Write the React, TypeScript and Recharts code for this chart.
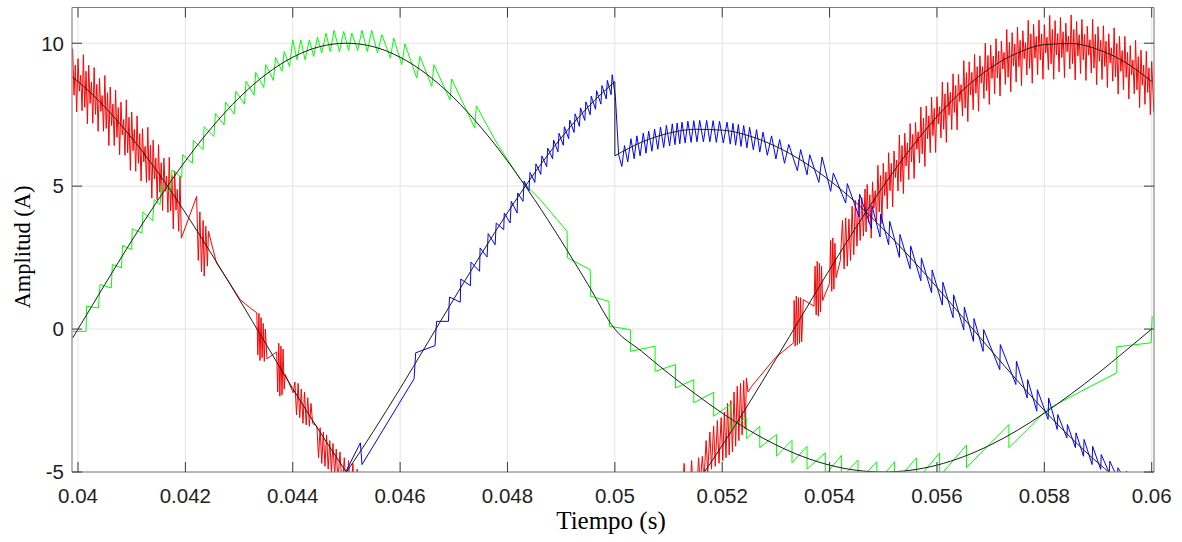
import React from "react";
import { LineChart, Line, XAxis, YAxis, CartesianGrid } from "recharts";

// ---------- axes ----------
const X_DOMAIN: [number, number] = [0.039888, 0.060043];
const Y_DOMAIN: [number, number] = [-5, 11.25];
const xTicks = [0.04, 0.042, 0.044, 0.046, 0.048, 0.05, 0.052, 0.054, 0.056, 0.058, 0.06];
const xTickLabels = ["0.04", "0.042", "0.044", "0.046", "0.048", "0.05", "0.052", "0.054", "0.056", "0.058", "0.06"];
const yTicks = [-5, 0, 5, 10];
const yTickLabels = ["-5", "0", "5", "10"];
const xTitle = "Tiempo (s)";
const yTitle = "Amplitud (A)";

// ---------- reference (black) curves ----------
const refTime = [
  0.0399, 0.04, 0.0405, 0.041, 0.0415, 0.042, 0.0425, 0.043, 0.0435, 0.044, 0.0445,
  0.045, 0.0455, 0.046, 0.0465, 0.047, 0.0475, 0.048, 0.0485, 0.049, 0.0495, 0.05,
  0.0505, 0.051, 0.0515, 0.052, 0.0525, 0.053, 0.0535, 0.054, 0.0545, 0.055, 0.0555,
  0.056, 0.0565, 0.057, 0.0575, 0.058, 0.0585, 0.059, 0.0595, 0.06,
];
const redRef = [
  8.81, 8.66, 7.77, 6.69, 5.45, 4.07, 2.59, 1.05, -0.52, -2.08, -3.58, -5.0, -6.29, -7.43,
  -8.39, -9.14, -9.66, -9.95, -9.99, -9.78, -9.34, -8.66, -7.77, -6.69, -5.45, -4.07, -2.59,
  -1.05, 0.52, 2.08, 3.58, 5.0, 6.29, 7.43, 8.39, 9.14, 9.66, 9.95, 9.99, 9.78, 9.34, 8.66,
];
const greenRef = [
  -0.31, 0, 1.56, 3.09, 4.54, 5.88, 7.07, 8.09, 8.91, 9.51, 9.88, 10, 9.88, 9.51, 8.91, 8.09,
  7.07, 5.88, 4.54, 3.09, 1.56, 0, -0.78, -1.55, -2.27, -2.94, -3.54, -4.05, -4.46, -4.76,
  -4.94, -5, -4.94, -4.76, -4.46, -4.05, -3.54, -2.94, -2.27, -1.55, -0.78, 0,
];
const blueRefBefore = [
  -8.5, -8.66, -9.34, -9.78, -9.99, -9.95, -9.66, -9.14, -8.39, -7.43, -6.29, -5.0, -3.58,
  -2.08, -0.52, 1.05, 2.59, 4.07, 5.45, 6.69, 7.77, 8.66,
];
const blueRefAfter = [
  6.06, 6.54, 6.85, 6.99, 6.96, 6.76, 6.39, 5.87, 5.2, 4.41, 3.5, 2.51, 1.46, 0.37, -0.73,
  -1.81, -2.85, -3.81, -4.68, -5.44, -6.06,
];
const blueRefJumpTime = [0.05, 0.05];
const blueRefJump = [8.66, 6.06];

// ---------- measured currents (time s, amplitude A) ----------
const greenCurrent: [number, number][] = [
  [0.0399, -0.08], [0.04015, -0.08], [0.04016, 0.8], [0.04038, 0.74], [0.04041, 1.56],
  [0.04062, 1.44], [0.04064, 2.26], [0.04081, 2.14], [0.04083, 2.93], [0.041, 2.78],
  [0.04101, 3.51], [0.04119, 3.36], [0.04121, 4.1], [0.04139, 3.79], [0.04142, 4.53],
  [0.04153, 4.35], [0.04155, 5.02], [0.04173, 4.77], [0.04175, 5.57], [0.04193, 5.3],
  [0.04195, 6.1], [0.04213, 5.8], [0.04215, 6.6], [0.04233, 6.28], [0.04235, 7.08],
  [0.04253, 6.74], [0.04256, 7.54], [0.04272, 7.14], [0.04275, 7.94], [0.04291, 7.52],
  [0.04294, 8.32], [0.0431, 7.87], [0.04313, 8.67], [0.04328, 8.18], [0.04331, 8.98],
  [0.04346, 8.45], [0.0435, 9.25], [0.04364, 8.7], [0.04368, 9.5], [0.0438, 9.02],
  [0.04384, 9.71], [0.04394, 9.19], [0.044, 10.12], [0.04408, 9.42], [0.04415, 10.12],
  [0.04423, 9.42], [0.04431, 10.12], [0.04439, 9.54], [0.04446, 10.21], [0.04454, 9.66],
  [0.04462, 10.35], [0.0447, 9.71], [0.04477, 10.45], [0.04487, 9.71], [0.04495, 10.41],
  [0.04504, 9.75], [0.0451, 10.35], [0.04521, 9.75], [0.04529, 10.45], [0.04539, 9.71],
  [0.04547, 10.45], [0.04558, 9.66], [0.04566, 10.3], [0.04582, 9.48], [0.04588, 10.18],
  [0.04603, 9.25], [0.04609, 9.98], [0.04631, 8.78], [0.04637, 9.54], [0.04659, 8.49],
  [0.04663, 9.25], [0.04693, 8.02], [0.04696, 8.75], [0.04739, 7.03], [0.04742, 7.81],
  [0.0478, 6.51], [0.04824, 5.23], [0.04861, 4.53], [0.04911, 3.42], [0.04912, 2.49],
  [0.04954, 2.08], [0.04955, 1.15], [0.04989, 0.97], [0.0499, 0.1], [0.05029, -0.02],
  [0.05029, -0.78], [0.05075, -0.6], [0.05075, -1.48], [0.05113, -1.24], [0.05113, -2.06],
  [0.05147, -1.77], [0.05147, -2.58], [0.05184, -2.21], [0.05184, -3.05], [0.05215, -2.64],
  [0.05215, -3.51], [0.05245, -3.1], [0.05245, -3.84], [0.0527, -3.4], [0.0527, -4.15],
  [0.05301, -3.69], [0.05301, -4.45], [0.0533, -3.89], [0.0533, -4.68], [0.05358, -4.1],
  [0.05358, -4.9], [0.05392, -4.33], [0.05392, -5.1], [0.05422, -4.42], [0.05422, -5.2],
  [0.05453, -4.58], [0.05453, -5.35], [0.05488, -4.64], [0.05488, -5.4], [0.05521, -4.64],
  [0.05521, -5.4], [0.05562, -4.5], [0.05562, -5.3], [0.05605, -4.33], [0.05605, -5.15],
  [0.05655, -4.06], [0.05655, -4.85], [0.05734, -3.34], [0.05734, -4.15], [0.05768, -3.52],
  [0.05805, -2.81], [0.05868, -2.18], [0.05935, -1.53], [0.05935, -0.62], [0.05999, -0.48],
  [0.06001, 0.45],
];

const blueCurrent: [number, number][] = [
  [0.0449, -5.6], [0.04501, -4.91], [0.04526, -3.98], [0.04529, -4.74], [0.04626, -1.74],
  [0.04629, -0.83], [0.04665, -0.58], [0.04668, 0.27], [0.0469, 0.27], [0.04692, 1.12],
  [0.04712, 0.94], [0.04713, 1.75], [0.04731, 1.52], [0.04732, 2.34], [0.04748, 2.02],
  [0.04749, 2.84], [0.04762, 2.52], [0.04764, 3.34], [0.04777, 2.95], [0.04779, 3.71],
  [0.04793, 3.48], [0.04794, 4.06], [0.04805, 3.71], [0.04807, 4.47], [0.04818, 4.06],
  [0.04819, 4.76], [0.04829, 4.47], [0.04831, 5.18], [0.0484, 4.83], [0.04842, 5.48],
  [0.04851, 5.13], [0.04853, 5.78], [0.04862, 5.41], [0.04864, 6.06], [0.04873, 5.68],
  [0.04875, 6.33], [0.04884, 5.96], [0.04886, 6.61], [0.04894, 6.2], [0.04896, 6.85],
  [0.04904, 6.43], [0.04906, 7.08], [0.04914, 6.66], [0.04916, 7.31], [0.04924, 6.88],
  [0.04926, 7.53], [0.04934, 7.09], [0.04936, 7.74], [0.04944, 7.3], [0.04946, 7.95],
  [0.04954, 7.5], [0.04956, 8.15], [0.04964, 7.69], [0.04966, 8.34], [0.04974, 7.87],
  [0.04976, 8.52], [0.04984, 8.05], [0.04986, 8.7], [0.04993, 8.2], [0.04995, 8.9],
  [0.05001, 8.14], [0.05007, 6.1], [0.05013, 5.69], [0.05018, 6.42], [0.05024, 5.85],
  [0.0503, 6.66], [0.05036, 5.96], [0.05041, 6.76], [0.05047, 6.06], [0.05053, 6.86],
  [0.05058, 6.15], [0.05063, 6.93], [0.05069, 6.22], [0.05074, 7.0], [0.0508, 6.29],
  [0.05085, 7.07], [0.05091, 6.35], [0.05096, 7.13], [0.05102, 6.41], [0.05107, 7.18],
  [0.05112, 6.45], [0.05116, 7.21], [0.05121, 6.48], [0.05125, 7.24], [0.05131, 6.51],
  [0.05136, 7.27], [0.05142, 6.53], [0.05147, 7.29], [0.05153, 6.55], [0.05158, 7.3],
  [0.05165, 6.55], [0.05171, 7.3], [0.05177, 6.55], [0.05183, 7.29], [0.05189, 6.53],
  [0.05195, 7.27], [0.05202, 6.51], [0.05209, 7.24], [0.05215, 6.47], [0.0522, 7.2],
  [0.05225, 6.43], [0.0523, 7.16], [0.05235, 6.39], [0.0524, 7.12], [0.05246, 6.34],
  [0.05251, 7.06], [0.05258, 6.27], [0.05264, 6.98], [0.0527, 6.19], [0.05276, 6.89],
  [0.05284, 6.08], [0.05292, 6.76], [0.053, 5.95], [0.05307, 6.63], [0.05316, 5.8],
  [0.05324, 6.46], [0.0534, 5.54], [0.05346, 6.28], [0.05358, 5.4], [0.05363, 6.1],
  [0.0538, 5.13], [0.05386, 6.02], [0.05402, 4.82], [0.05407, 5.46], [0.0543, 4.41],
  [0.05433, 5.09], [0.05455, 3.92], [0.05456, 4.72], [0.05478, 3.51], [0.05479, 4.31],
  [0.05494, 3.22], [0.05495, 4.02], [0.0551, 2.95], [0.05512, 3.77], [0.0553, 2.51],
  [0.05531, 3.31], [0.0555, 2.11], [0.05551, 2.91], [0.0557, 1.69], [0.05571, 2.49],
  [0.0559, 1.27], [0.05591, 2.07], [0.0561, 0.84], [0.05611, 1.64], [0.0563, 0.4],
  [0.05631, 1.2], [0.0565, -0.03], [0.05651, 0.77], [0.05668, -0.43], [0.05669, 0.37],
  [0.05686, -0.78], [0.05687, -0.02], [0.05717, -1.42], [0.05718, -0.54], [0.05747, -1.94],
  [0.05748, -1.12], [0.05768, -2.41], [0.05769, -1.77], [0.05786, -2.87], [0.05787, -2.12],
  [0.05807, -3.16], [0.05808, -2.41], [0.05824, -3.51], [0.05825, -2.99], [0.05842, -3.81],
  [0.05843, -3.34], [0.05858, -4.15], [0.05859, -3.63], [0.05873, -4.45], [0.05874, -3.86],
  [0.05889, -4.74], [0.0589, -4.1], [0.05905, -4.91], [0.05906, -4.39], [0.05921, -5.03],
  [0.05922, -4.62], [0.05936, -5.2], [0.05937, -4.85], [0.05952, -5.3], [0.05953, -4.97],
  [0.0597, -5.6],
];

const redCurrent: [number, number][] = [
  [0.0399, 9.81], [0.039925, 8.18], [0.03995, 9.24], [0.039975, 7.6], [0.04, 9.46], [0.040025, 8.32],
  [0.04005, 8.88], [0.040075, 7.64], [0.0401, 9.6], [0.040125, 7.76], [0.04015, 9.02], [0.040175, 7.18],
  [0.0402, 9.23], [0.040225, 7.89], [0.04025, 8.64], [0.040275, 7.2], [0.0403, 9.15], [0.040325, 7.51],
  [0.04035, 8.56], [0.040375, 6.92], [0.0404, 8.77], [0.040425, 7.62], [0.04045, 8.17], [0.040475, 6.92],
  [0.0405, 8.87], [0.040525, 7.02], [0.04055, 8.27], [0.040575, 6.42], [0.0406, 8.47], [0.040625, 7.12],
  [0.04065, 7.87], [0.040675, 6.42], [0.0407, 8.36], [0.040725, 6.71], [0.04075, 7.75], [0.040775, 6.1],
  [0.0408, 7.94], [0.040825, 6.79], [0.04085, 7.33], [0.040875, 6.08], [0.0409, 8.02], [0.040925, 6.17],
  [0.04095, 7.41], [0.040975, 5.55], [0.041, 7.59], [0.041025, 6.24], [0.04105, 6.98], [0.041075, 5.52],
  [0.0411, 7.46], [0.041125, 5.8], [0.04115, 6.84], [0.041175, 5.18], [0.0412, 7.01], [0.041225, 5.85],
  [0.04125, 6.39], [0.041275, 5.13], [0.0413, 7.06], [0.041325, 5.2], [0.04135, 6.44], [0.041375, 4.58],
  [0.0414, 6.61], [0.041425, 5.25], [0.04145, 5.98], [0.041475, 4.52], [0.0415, 6.45], [0.041525, 4.79],
  [0.04155, 5.82], [0.041575, 4.15], [0.0416, 5.98], [0.041625, 4.82], [0.04165, 5.35], [0.041675, 4.08],
  [0.0417, 6.01], [0.041725, 4.14], [0.04175, 5.37], [0.041775, 3.5], [0.0418, 5.53], [0.041825, 4.16],
  [0.04185, 4.89], [0.041875, 3.42], [0.0419, 5.35], [0.041925, 3.18],
  [0.04221, 4.64], [0.04224, 2.4], [0.04227, 4.1], [0.0423, 2.0], [0.04233, 3.8], [0.04235, 1.85],
  [0.04238, 3.6], [0.04241, 2.2], [0.04243, 3.42], [0.04258, 2.31], [0.0428, 1.68], [0.04302, 1.03],
  [0.0432, 0.75], [0.04333, 0.57], [0.04335, -0.9], [0.04337, 0.55], [0.04339, -1.1], [0.04341, 0.4],
  [0.04343, -1.0], [0.04345, 0.2], [0.04347, -1.13], [0.04349, 0.0], [0.04352, -1.04], [0.0437, -0.8],
  [0.04372, -2.2], [0.04374, -0.5], [0.04376, -2.35], [0.04378, -0.6], [0.0438, -2.3], [0.04382, -0.7],
  [0.04384, -2.1], [0.04386, -1.59], [0.04401, -2.23], [0.04404, -1.85], [0.04407, -3.0], [0.0441, -1.9],
  [0.04413, -3.1], [0.04416, -2.1], [0.04419, -3.3], [0.04422, -2.2], [0.04425, -3.35], [0.04428, -2.4],
  [0.04431, -3.4], [0.04434, -2.6], [0.04437, -3.3], [0.04445, -3.4], [0.04448, -4.5], [0.04451, -3.45],
  [0.04454, -4.7], [0.04457, -3.6], [0.0446, -4.8], [0.04463, -3.7], [0.04466, -4.9], [0.04469, -3.9],
  [0.04472, -5.0], [0.04475, -4.0], [0.04478, -5.1], [0.04481, -4.2], [0.04484, -5.3], [0.04488, -4.3],
  [0.04492, -5.6], [0.04496, -4.5], [0.045, -5.8], [0.04504, -4.6], [0.04508, -6.0], [0.04512, -4.7],
  [0.04516, -6.1], [0.0452, -4.9], [0.04524, -6.2], [0.0453, -6.0], [0.046, -7.8], [0.047, -9.4],
  [0.0483, -10.0], [0.0495, -9.5], [0.0505, -7.9], [0.0512, -6.0],
  [0.05126, -5.8], [0.05129, -4.7], [0.05132, -5.9], [0.0514, -5.6], [0.05143, -4.6], [0.05146, -5.7],
  [0.05153, -5.5], [0.05156, -4.5], [0.05159, -5.4], [0.05163, -4.45], [0.05166, -5.3], [0.0517, -3.9],
  [0.05173, -5.0], [0.05177, -3.6], [0.0518, -4.9], [0.05184, -3.4], [0.05187, -4.8], [0.05191, -3.2],
  [0.05194, -4.7], [0.05198, -3.1], [0.05201, -4.6], [0.05204, -2.9], [0.05207, -4.5], [0.0521, -2.6],
  [0.05213, -4.4], [0.05216, -2.5], [0.05219, -4.3], [0.05222, -2.2], [0.05225, -4.1], [0.05228, -2.0],
  [0.05231, -3.9], [0.05234, -1.9], [0.05237, -3.7], [0.0524, -1.8], [0.05243, -3.5], [0.05245, -1.71],
  [0.05248, -2.2], [0.05255, -2.0], [0.05299, -1.0], [0.05333, -0.48], [0.05334, 1.0], [0.05336, -0.6],
  [0.05338, 1.15], [0.0534, -0.55], [0.05342, 1.1], [0.05344, -0.5], [0.05346, 1.1], [0.05348, -0.45],
  [0.05351, 1.03], [0.05371, 0.8], [0.05373, 2.2], [0.05375, 0.5], [0.05377, 2.37], [0.05379, 0.45],
  [0.05381, 2.3], [0.05383, 0.6], [0.05385, 2.2], [0.05387, 1.0], [0.054, 1.6], [0.05402, 3.1],
  [0.05404, 1.32], [0.05406, 3.19], [0.05408, 1.4], [0.0541, 3.0], [0.05412, 1.8], [0.0542, 2.4],
  [0.05424, 3.8], [0.05427, 2.1], [0.0543, 3.89], [0.05433, 2.2], [0.05436, 3.85], [0.05439, 2.4],
  [0.05442, 4.3], [0.05445, 2.6], [0.05448, 4.5], [0.05451, 2.9], [0.05454, 4.53], [0.05457, 3.1],
  [0.0546, 4.6], [0.05463, 3.25], [0.05466, 4.9], [0.05468, 3.4],
  [0.0547, 5.06], [0.054725, 3.73], [0.05475, 4.7], [0.054775, 3.18], [0.0548, 5.15], [0.054825, 4.22],
  [0.05485, 4.84], [0.054875, 3.76], [0.0549, 5.73], [0.054925, 4.1], [0.05495, 5.37], [0.054975, 3.69],
  [0.055, 5.8], [0.055025, 4.67], [0.05505, 5.49], [0.055075, 4.21], [0.0551, 6.17], [0.055125, 4.84],
  [0.05515, 5.8], [0.055175, 4.27], [0.0552, 6.23], [0.055225, 5.3], [0.05525, 5.91], [0.055275, 4.83],
  [0.0553, 6.79], [0.055325, 5.16], [0.05535, 6.42], [0.055375, 4.74], [0.0554, 6.85], [0.055425, 5.71],
  [0.05545, 6.52], [0.055475, 5.23], [0.0555, 7.19], [0.055525, 5.85], [0.05555, 6.81], [0.055575, 5.27],
  [0.0556, 7.23], [0.055625, 6.29], [0.05565, 6.9], [0.055675, 5.81], [0.0557, 7.77], [0.055725, 6.13],
  [0.05575, 7.38], [0.055775, 5.69], [0.0558, 7.8], [0.055825, 6.66], [0.05585, 7.46], [0.055875, 6.17],
  [0.0559, 8.12], [0.055925, 6.77], [0.05595, 7.72], [0.055975, 6.18], [0.056, 8.13], [0.056025, 7.18],
  [0.05605, 7.78], [0.056075, 6.69], [0.0561, 8.64], [0.056125, 6.99], [0.05615, 8.23], [0.056175, 6.53],
  [0.0562, 8.63], [0.056225, 7.48], [0.05625, 8.28], [0.056275, 6.98], [0.0563, 8.93], [0.056325, 7.58],
  [0.05635, 8.52], [0.056375, 6.97], [0.0564, 8.91], [0.056425, 7.96], [0.05645, 8.55], [0.056475, 7.45],
  [0.0565, 9.39], [0.056525, 7.73], [0.05655, 8.97], [0.056575, 7.26], [0.0566, 9.35], [0.056625, 8.19],
  [0.05665, 8.98], [0.056675, 7.67], [0.0567, 9.61], [0.056725, 8.25], [0.05675, 9.18], [0.056775, 7.62],
  [0.0568, 9.56], [0.056825, 8.6], [0.05685, 9.18], [0.056875, 8.07], [0.0569, 10.0], [0.056925, 8.34],
  [0.05695, 9.57], [0.056975, 7.86], [0.057, 9.94], [0.057025, 8.77], [0.05705, 9.55], [0.057075, 8.23],
  [0.0571, 10.16], [0.057125, 8.79], [0.05715, 9.72], [0.057175, 8.15], [0.0572, 10.07], [0.057225, 9.1],
  [0.05725, 9.68], [0.057275, 8.56], [0.0573, 10.48], [0.057325, 8.81], [0.05735, 10.03], [0.057375, 8.3],
  [0.0574, 10.37], [0.057425, 9.2], [0.05745, 9.97], [0.057475, 8.64], [0.0575, 10.56], [0.057525, 9.18],
  [0.05755, 10.1], [0.057575, 8.52], [0.0576, 10.44], [0.057625, 9.46], [0.05765, 10.02], [0.057675, 8.89],
  [0.0577, 10.8], [0.057725, 9.12], [0.05775, 10.33], [0.057775, 8.6], [0.0578, 10.66], [0.057825, 9.48],
  [0.05785, 10.24], [0.057875, 8.9], [0.0579, 10.81], [0.057925, 9.42], [0.05795, 10.33], [0.057975, 8.74],
  [0.058, 10.65], [0.058025, 9.66], [0.05805, 10.21], [0.058075, 9.07], [0.0581, 10.97], [0.058125, 9.28],
  [0.05815, 10.48], [0.058175, 8.74], [0.0582, 10.79], [0.058225, 9.59], [0.05825, 10.34], [0.058275, 9.0],
  [0.0583, 10.9], [0.058325, 9.5], [0.05835, 10.4], [0.058375, 8.8], [0.0584, 10.7], [0.058425, 9.7],
  [0.05845, 10.25], [0.058475, 9.1], [0.0585, 10.99], [0.058525, 9.29], [0.05855, 10.48], [0.058575, 8.72],
  [0.0586, 10.76], [0.058625, 9.56], [0.05865, 10.3], [0.058675, 8.94], [0.0587, 10.83], [0.058725, 9.42],
  [0.05875, 10.31], [0.058775, 8.7], [0.0588, 10.59], [0.058825, 9.58], [0.05885, 10.12], [0.058875, 8.96],
  [0.0589, 10.84], [0.058925, 9.13], [0.05895, 10.31], [0.058975, 8.55], [0.059, 10.58], [0.059025, 9.37],
  [0.05905, 10.1], [0.059075, 8.73], [0.0591, 10.61], [0.059125, 9.19], [0.05915, 10.07], [0.059175, 8.45],
  [0.0592, 10.33], [0.059225, 9.31], [0.05925, 9.84], [0.059275, 8.67], [0.0593, 10.54], [0.059325, 8.82],
  [0.05935, 9.99], [0.059375, 8.22], [0.0594, 10.24], [0.059425, 9.02], [0.05945, 9.74], [0.059475, 8.37],
  [0.0595, 10.24], [0.059525, 8.81], [0.05955, 9.68], [0.059575, 8.05], [0.0596, 9.92], [0.059625, 8.89],
  [0.05965, 9.41], [0.059675, 8.23], [0.0597, 10.1], [0.059725, 8.37], [0.05975, 9.53], [0.059775, 7.75],
  [0.0598, 9.76], [0.059825, 8.53], [0.05985, 9.24], [0.059875, 7.86], [0.0599, 9.72], [0.059925, 8.28],
  [0.05995, 9.14], [0.059975, 7.5], [0.06, 9.36], [0.06004, 7.6],
];

// ---------- helpers ----------
const zip = (ts: number[], vs: number[]) => ts.map((t, i) => ({ t, v: vs[i] }));
const fromPairs = (ps: [number, number][]) => ps.map(([t, v]) => ({ t, v }));

const redRefData = zip(refTime, redRef);
const greenRefData = zip(refTime, greenRef);
const blueRefBeforeData = zip(refTime.slice(0, 22), blueRefBefore);
const blueRefAfterData = zip(refTime.slice(21), blueRefAfter);
const blueRefJumpData = zip(blueRefJumpTime, blueRefJump);
const redData = fromPairs(redCurrent);
const greenData = fromPairs(greenCurrent);
const blueData = fromPairs(blueCurrent);

const AXIS_COLOR = "#7f7f7f";
const TICK_COLOR = "#3a3a3a";
const LABEL_COLOR = "#1f1f1f";
const TICK_FONT = "'Liberation Sans', Arial, Helvetica, sans-serif";
const TITLE_FONT = "'Liberation Serif', 'Times New Roman', serif";
const TICK_LEN = 10;

const BottomTick = (p: any) => {
  const idx = xTicks.indexOf(p.payload.value);
  return (
    <g>
      <line x1={p.x} x2={p.x} y1={p.y - 16} y2={p.y - 16 - TICK_LEN} stroke={TICK_COLOR} strokeWidth={1} />
      <text x={p.x} y={p.y} dy="0.71em" textAnchor="middle" fontFamily={TICK_FONT} fontSize={20.5} fill={LABEL_COLOR}>
        {idx >= 0 ? xTickLabels[idx] : ""}
      </text>
    </g>
  );
};
const TopTick = (p: any) => (
  <line x1={p.x} x2={p.x} y1={p.y} y2={p.y + TICK_LEN} stroke={TICK_COLOR} strokeWidth={1} />
);
const LeftTick = (p: any) => {
  const idx = yTicks.indexOf(p.payload.value);
  return (
    <g>
      <line x1={p.x + 8} x2={p.x + 8 + TICK_LEN} y1={p.y} y2={p.y} stroke={TICK_COLOR} strokeWidth={1} />
      <text x={p.x} y={p.y} dy="0.355em" textAnchor="end" fontFamily={TICK_FONT} fontSize={20.5} fill={LABEL_COLOR}>
        {idx >= 0 ? yTickLabels[idx] : ""}
      </text>
    </g>
  );
};
const RightTick = (p: any) => (
  <line x1={p.x} x2={p.x - TICK_LEN} y1={p.y} y2={p.y} stroke={TICK_COLOR} strokeWidth={1} />
);

export default function App() {
  return (
    <div style={{ position: "absolute", left: 0, top: 0, width: 1182, height: 542, background: "#ffffff" }}>
      <LineChart width={1182} height={542} margin={{ top: 0.5, right: 0, bottom: 0, left: 0 }}>
        <CartesianGrid stroke="#e4e4e4" strokeWidth={1} />
        <XAxis
          type="number"
          dataKey="t"
          domain={X_DOMAIN}
          allowDataOverflow
          ticks={xTicks}
          interval={0}
          height={70}
          tickSize={0}
          tickMargin={16}
          tickLine={false}
          axisLine={{ stroke: AXIS_COLOR }}
          tick={BottomTick}
        />
        <XAxis
          xAxisId="top"
          orientation="top"
          type="number"
          dataKey="t"
          domain={X_DOMAIN}
          allowDataOverflow
          ticks={xTicks}
          interval={0}
          height={7}
          tickSize={0}
          tickMargin={0}
          tickLine={false}
          axisLine={{ stroke: AXIS_COLOR }}
          tick={TopTick}
        />
        <YAxis
          type="number"
          domain={Y_DOMAIN}
          allowDataOverflow
          ticks={yTicks}
          interval={0}
          width={72}
          tickSize={0}
          tickMargin={8}
          tickLine={false}
          axisLine={{ stroke: AXIS_COLOR }}
          tick={LeftTick}
        />
        <YAxis
          yAxisId="right"
          orientation="right"
          type="number"
          domain={Y_DOMAIN}
          allowDataOverflow
          ticks={yTicks}
          interval={0}
          width={28}
          tickSize={0}
          tickMargin={0}
          tickLine={false}
          axisLine={{ stroke: AXIS_COLOR }}
          tick={RightTick}
        />
        <Line data={redData} dataKey="v" type="linear" stroke="#ff0000" strokeWidth={1} dot={false} isAnimationActive={false} />
        <Line data={greenData} dataKey="v" type="linear" stroke="#00ff00" strokeWidth={1} dot={false} isAnimationActive={false} />
        <Line data={blueData} dataKey="v" type="linear" stroke="#0000ff" strokeWidth={1} dot={false} isAnimationActive={false} />
        <Line data={redRefData} dataKey="v" type="monotone" stroke="#1a1a1a" strokeWidth={1} dot={false} isAnimationActive={false} />
        <Line data={greenRefData} dataKey="v" type="monotone" stroke="#1a1a1a" strokeWidth={1} dot={false} isAnimationActive={false} />
        <Line data={blueRefBeforeData} dataKey="v" type="monotone" stroke="#1a1a1a" strokeWidth={1} dot={false} isAnimationActive={false} />
        <Line data={blueRefAfterData} dataKey="v" type="monotone" stroke="#1a1a1a" strokeWidth={1} dot={false} isAnimationActive={false} />
        <Line data={blueRefJumpData} dataKey="v" type="linear" stroke="#1a1a1a" strokeWidth={1} dot={false} isAnimationActive={false} />
      </LineChart>
      <svg width={1182} height={542} style={{ position: "absolute", left: 0, top: 0, pointerEvents: "none" }}>
        <text x={611} y={529} textAnchor="middle" fontFamily={TITLE_FONT} fontSize={25} fill="#000">
          {xTitle}
        </text>
        <text x={30} y={247} textAnchor="middle" fontFamily={TITLE_FONT} fontSize={22.5} fill="#000" transform="rotate(-90 30 247)">
          {yTitle}
        </text>
      </svg>
    </div>
  );
}
